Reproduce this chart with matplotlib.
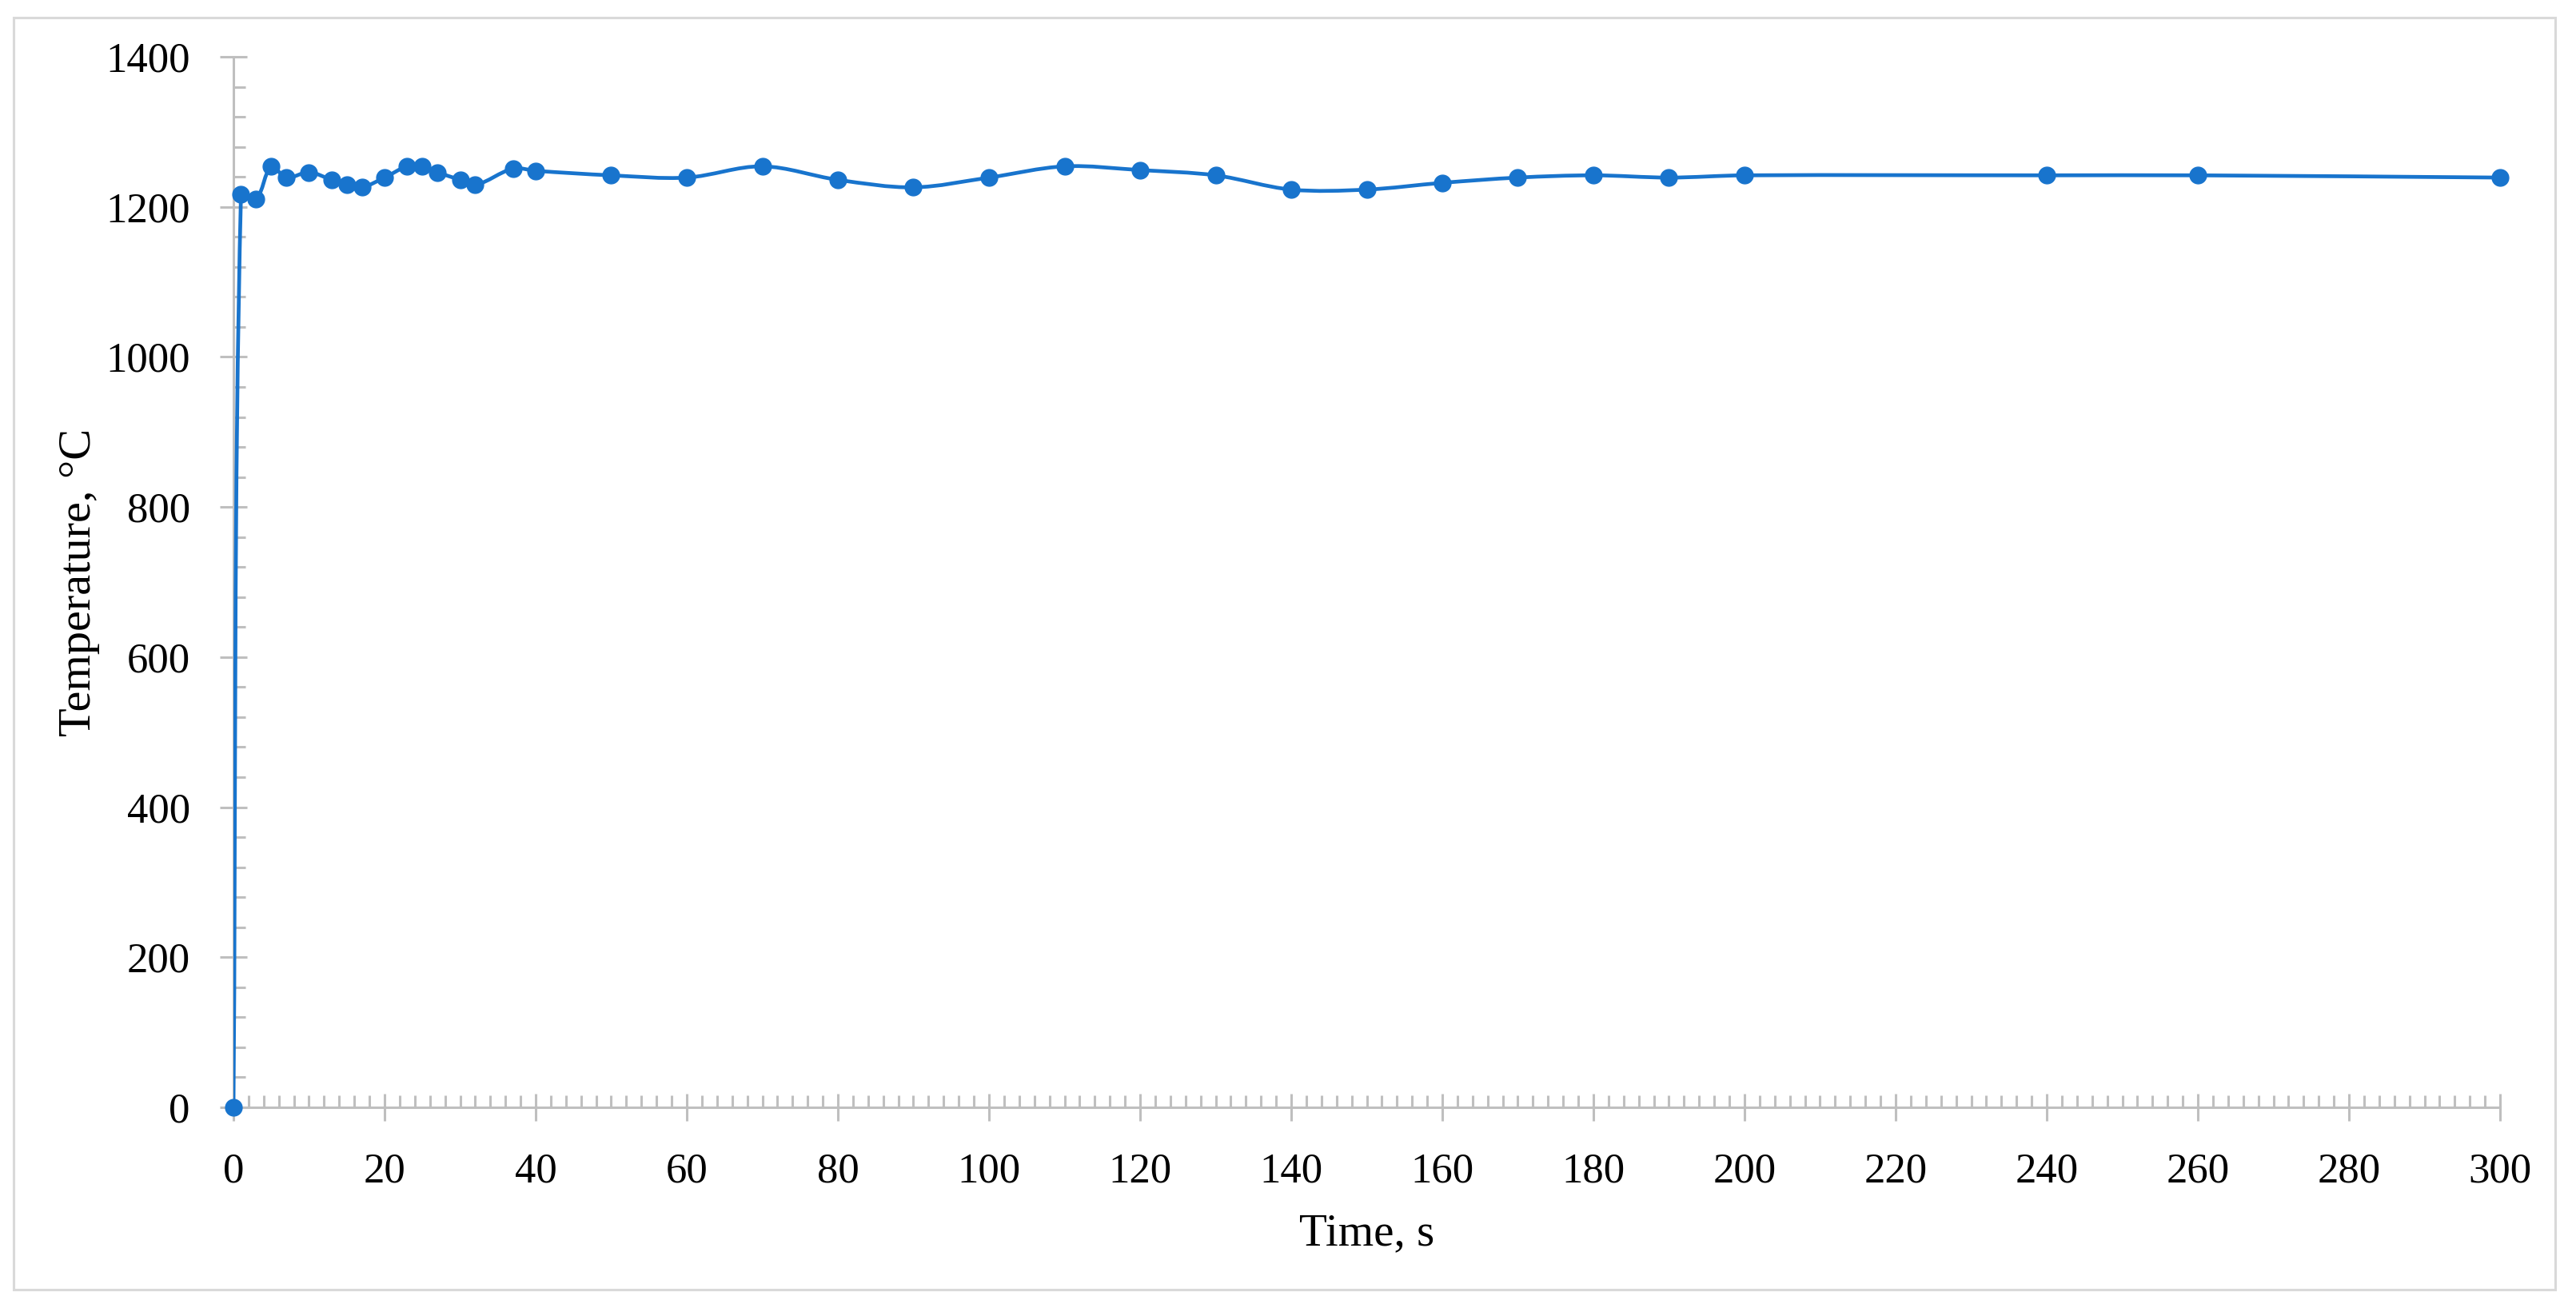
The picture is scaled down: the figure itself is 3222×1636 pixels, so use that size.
import matplotlib.pyplot as plt
import numpy as np
from matplotlib.path import Path
from matplotlib.patches import PathPatch, Rectangle
from matplotlib.ticker import MultipleLocator

time_s = [0, 1, 3, 5, 7, 10, 13, 15, 17, 20, 23, 25, 27, 30, 32, 37, 40,
          50, 60, 70, 80, 90, 100, 110, 120, 130, 140, 150, 160, 170, 180,
          190, 200, 240, 260, 300]
temp_c = [0, 1217, 1210, 1254, 1239, 1246, 1236, 1229, 1226, 1239, 1254, 1254,
          1246, 1236, 1229, 1251, 1248, 1242, 1239, 1254, 1236, 1226, 1239,
          1254, 1249, 1242, 1223, 1223, 1232, 1239, 1242, 1239, 1242, 1242,
          1242, 1239]

blue = "#1874cd"
grey = "#bfbfbf"
plt.rcParams['font.family'] = ['Liberation Serif', 'DejaVu Serif']

fig = plt.figure(figsize=(32.23, 16.36), dpi=100)
ax = fig.add_axes([292 / 3223, 1 - 1385 / 1636, 2835 / 3223, 1314 / 1636])
ax.set_xlim(0, 300)
ax.set_ylim(0, 1400)

# smoothed line (excel-like bezier, control points scaled by segment length on screen)
pts = np.column_stack([time_s, temp_c]).astype(float)
px = ax.transData.transform(pts)
n = len(pts)
s = 1 / 3
verts = [pts[0]]
codes = [Path.MOVETO]
for i in range(n - 1):
    i0, i3 = max(i - 1, 0), min(i + 2, n - 1)
    d01 = np.hypot(*(px[i] - px[i0]))
    d12 = np.hypot(*(px[i + 1] - px[i]))
    d23 = np.hypot(*(px[i3] - px[i + 1]))
    f1 = s * d12 / (d01 + d12)
    f2 = s * d12 / (d12 + d23)
    c1 = pts[i] + (pts[i + 1] - pts[i0]) * f1
    c2 = pts[i + 1] - (pts[i3] - pts[i]) * f2
    verts += [c1, c2, pts[i + 1]]
    codes += [Path.CURVE4] * 3
ax.add_patch(PathPatch(Path(verts, codes), fill=False, edgecolor=blue,
                       lw=3.4, capstyle='round', joinstyle='round', zorder=3))
ax.plot(time_s, temp_c, 'o', color=blue, markersize=15, zorder=4, clip_on=False)

for side in ['top', 'right']:
    ax.spines[side].set_visible(False)
for side in ['left', 'bottom']:
    ax.spines[side].set_color(grey)
    ax.spines[side].set_linewidth(2.2)

ax.xaxis.set_major_locator(MultipleLocator(20))
ax.xaxis.set_minor_locator(MultipleLocator(2))
ax.yaxis.set_major_locator(MultipleLocator(200))
ax.yaxis.set_minor_locator(MultipleLocator(40))
ax.tick_params(which='major', direction='inout', length=24, width=2.2, color=grey,
               labelsize=38, labelcolor='black')
ax.tick_params(axis='x', which='major', pad=29)
ax.tick_params(axis='y', which='major', pad=27)
ax.tick_params(which='minor', direction='in', length=11, width=2.2, color=grey)

ax.set_xlabel("Time, s", fontsize=41)
ax.set_ylabel("Temperature, °C", fontsize=42)
ax.xaxis.set_label_coords(0.5, -0.101)
ax.yaxis.set_label_coords(-0.059, 0.5)

fig.patches.append(Rectangle((17 / 3223, 1 - 1613 / 1636), 3179 / 3223, 1591 / 1636,
                             transform=fig.transFigure, fill=False,
                             edgecolor="#d9d9d9", lw=2.2))

fig.savefig("out.png", dpi=100)
